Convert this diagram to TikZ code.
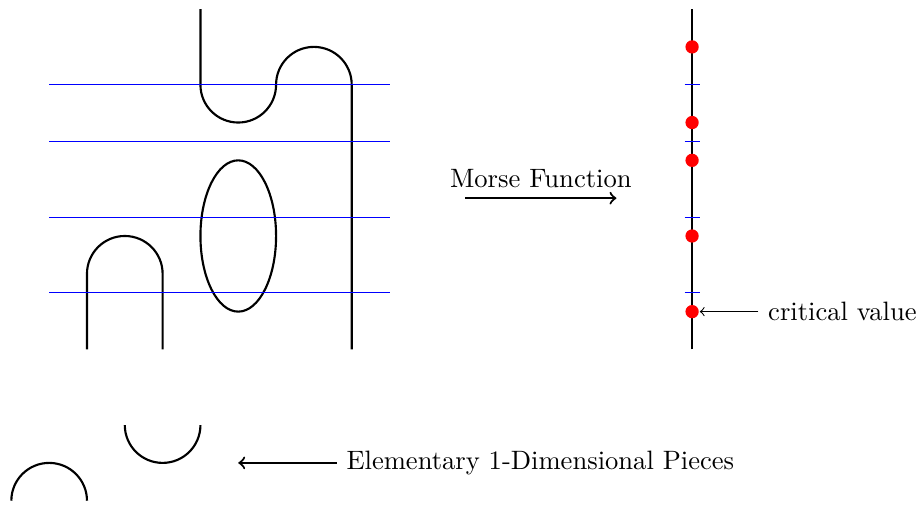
\documentclass[tikz,border=0pt]{standalone}
\begin{document}
\begin{tikzpicture}[x=0.5cm, y=0.5cm, >=to, thick,
                    level/.style={blue, thin},
                    critdot/.style={circle, fill=red, inner sep=0pt, minimum size=5pt}]
                    \useasboundingbox (-2.3,-4.1) rectangle (22.0,9.24);
                    % the curves
                    \draw (0,0) -- (0,2) arc (180:0:1) -- (2,0);
                    \draw (4,3) ellipse (1 and 2);
                    \draw (3,9) -- (3,7) arc (180:360:1) arc (180:0:1) -- (7,0);

                    % level sets
                    \draw (16,0) -- (16,9);
                    \foreach \h in {1.5, 3.5, 5.5, 7} {
                        \draw[level] (-1,\h) -- (8,\h);
                        \draw[level] (15.8,\h) -- (16.2,\h);
                    }
                    \foreach \v [count=\i] in {1, 3, 5, 6, 8}
                        \node[critdot] (c\i) at (16,\v) {};

                    \coordinate (mfstart) at (10,4);
                    \coordinate (mfend) at (14,4);
                    \draw[->] (mfstart) -- node[above] {Morse Function} (mfend);

                    \node[anchor=west] (critlabel) at (17.75,1) {critical value};
                    \draw[->, thin] (critlabel) -- (c1);

                    % pieces
                    \draw (-2,-4) arc (180:0:1);
                    \draw (1,-2) arc (180:360:1);
                    \coordinate (piecetip) at (4,-3);
                    \node[anchor=west] (pieces) at (6.6,-3) {Elementary 1-Dimensional Pieces};
                    \draw[->] (pieces) -- (piecetip);
                \end{tikzpicture}
\end{document}
